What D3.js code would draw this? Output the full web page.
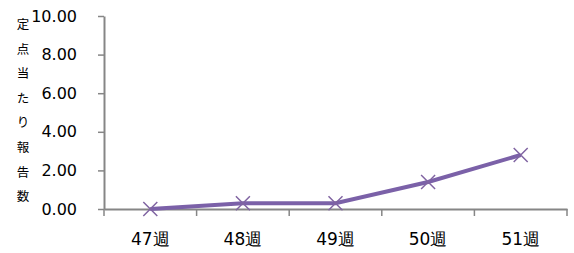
<!DOCTYPE html>
<html>
<head>
<meta charset="utf-8">
<script src="https://cdn.jsdelivr.net/npm/d3@7"></script>
<style>
  body { margin: 0; background: #fff; }
  svg { display: block; }
  .tick text { font-family: "DejaVu Sans", Verdana, sans-serif; fill: #000; }
</style>
</head>
<body>
<div id="vis"></div>
<script>
// data
var weeks = ['47週', '48週', '49週', '50週', '51週'];
var values = [0, 0.3, 0.3, 1.4, 2.8];
var yTicks = [0, 2, 4, 6, 8, 10];
var yTitle = '定点当たり報告数';

var width = 574;
var height = 253;
var margin = { top: 16, left: 104, bottom: 44, right: 7 };

var axisColor = '#868686';
var lineColor = '#7b61a8';

var svg = d3.select('#vis').append('svg')
    .attr('width', width)
    .attr('height', height);

var x = d3.scaleBand()
    .domain(weeks)
    .range([margin.left, width - margin.right]);

var y = d3.scaleLinear()
    .domain([0, 10])
    .range([height - margin.bottom, margin.top]);

// y axis
var yAxis = svg.append('g')
    .attr('transform', 'translate(' + margin.left + ',0)')
    .call(d3.axisLeft(y).tickValues(yTicks).tickSize(6).tickSizeOuter(0)
        .tickFormat(d3.format('.2f')));
yAxis.select('.domain').attr('stroke', axisColor).attr('stroke-width', 2);
yAxis.selectAll('.tick line').attr('stroke', axisColor).attr('stroke-width', 1.5);
yAxis.selectAll('.tick text')
    .attr('x', -27)
    .style('font-size', '16px');

// x axis
var xAxis = svg.append('g')
    .attr('transform', 'translate(0,' + (height - margin.bottom) + ')')
    .call(d3.axisBottom(x).tickSize(0).tickSizeOuter(0));
xAxis.select('.domain').attr('stroke', axisColor).attr('stroke-width', 2);
xAxis.selectAll('.tick text')
    .attr('y', 24)
    .style('font-size', '17px');

// tick marks on band edges
var edges = weeks.map(function (d) { return x(d); }).concat([x.range()[1]]);
svg.append('g').selectAll('line')
    .data(edges)
    .enter().append('line')
    .attr('x1', function (d) { return d; })
    .attr('x2', function (d) { return d; })
    .attr('y1', height - margin.bottom)
    .attr('y2', height - margin.bottom + 7)
    .attr('stroke', axisColor)
    .attr('stroke-width', 1.5);

// vertical y title
svg.append('g').selectAll('text')
    .data(yTitle.split(''))
    .enter().append('text')
    .attr('x', 23)
    .attr('y', function (d, i) { return 29 + i * 24.6; })
    .attr('text-anchor', 'middle')
    .style('font-family', '"Noto Sans CJK JP", sans-serif')
    .style('font-size', '12.5px')
    .attr('fill', '#000')
    .text(function (d) { return d; });

// line
var line = d3.line()
    .x(function (d, i) { return x(weeks[i]) + x.bandwidth() / 2; })
    .y(function (d) { return y(d); });

svg.append('path')
    .datum(values)
    .attr('d', line)
    .attr('fill', 'none')
    .attr('stroke', lineColor)
    .attr('stroke-width', 4);

// x markers
var s = 7;
svg.append('g').selectAll('path')
    .data(values)
    .enter().append('path')
    .attr('transform', function (d, i) {
        return 'translate(' + (x(weeks[i]) + x.bandwidth() / 2) + ',' + y(d) + ')';
    })
    .attr('d', 'M' + -s + ',' + -s + 'L' + s + ',' + s + 'M' + -s + ',' + s + 'L' + s + ',' + -s)
    .attr('stroke', '#8064a2')
    .attr('stroke-width', 1.5)
    .attr('fill', 'none');
</script>
</body>
</html>
